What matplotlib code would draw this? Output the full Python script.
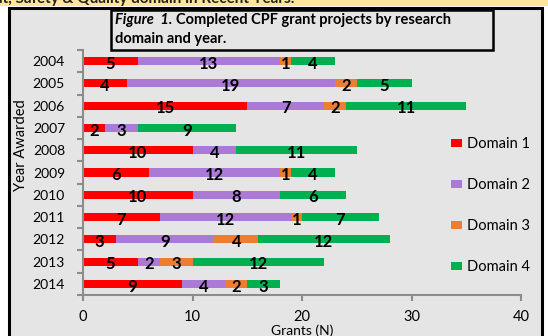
import numpy as np
import matplotlib.pyplot as plt
from matplotlib.patches import Rectangle, Patch

plt.rcParams['font.family'] = ['Lato', 'DejaVu Sans']

years = ['2004', '2005', '2006', '2007', '2008', '2009', '2010', '2011', '2012', '2013', '2014']
domain1 = [5, 4, 15, 2, 10, 6, 10, 7, 3, 5, 9]
domain2 = [13, 19, 7, 3, 4, 12, 8, 12, 9, 2, 4]
domain3 = [1, 2, 2, 0, 0, 1, 0, 1, 4, 3, 2]
domain4 = [4, 5, 11, 9, 11, 4, 6, 7, 12, 12, 3]
names = ['Domain 1', 'Domain 2', 'Domain 3', 'Domain 4']
colors = ['#FF0000', '#AA7AD6', '#ED7D31', '#00B050']

W, H = 548, 336
fig = plt.figure(figsize=(W / 100, H / 100), dpi=100)
fig.patch.set_facecolor('white')

def fx(x):
    return x / W

def fy(y):
    return 1 - y / H

# page strip + chart frame
fig.patches.append(Rectangle((0, fy(6)), 1, 6 / H, transform=fig.transFigure,
                             facecolor='#FDE59A', edgecolor='none', zorder=-20))
fig.text(fx(-6), fy(3.5), 'nt, Safety & Quality domain in Recent Years.',
         fontsize=11, fontweight='bold', va='baseline', ha='left', color='#222222')
fig.patches.append(Rectangle((fx(8.5), fy(345)), fx(542) - fx(8.5), (345 - 8.5) / H,
                             transform=fig.transFigure, facecolor='#E5E5E5',
                             edgecolor='black', linewidth=2.2, zorder=-10))

# title box
fig.patches.append(Rectangle((fx(111), fy(50)), fx(493) - fx(111), 40 / H,
                             transform=fig.transFigure, facecolor='#E5E5E5',
                             edgecolor='black', linewidth=1.8, zorder=-5))
fig.text(fx(115), fy(20), 'Figure  1.', fontsize=10.5, fontweight='bold',
         fontstyle='italic', va='center', ha='left')
fig.text(fx(176), fy(20), 'Completed CPF grant projects by research',
         fontsize=10.5, fontweight='bold', va='center', ha='left')
fig.text(fx(115), fy(39), 'domain and year.', fontsize=10.5, fontweight='bold',
         va='center', ha='left')

ax = fig.add_axes([fx(83), fy(295), fx(521) - fx(83), (295 - 50) / H])
ax.set_facecolor('none')

y = np.arange(len(years))
data = [domain1, domain2, domain3, domain4]
left = np.zeros(len(years))
for vals, c, n in zip(data, colors, names):
    vals = np.array(vals)
    ax.barh(y, vals, left=left, height=0.36, color=c, label=n)
    for yi, (l, v) in enumerate(zip(left, vals)):
        if v > 0:
            ax.text(l + v / 2, yi + 0.12, str(v), ha='center', va='center',
                    fontsize=12, fontweight='bold', color='black')
    left += vals

ax.set_xlim(0, 40)
ax.set_ylim(len(years) - 0.5, -0.5)
ax.set_xticks([0, 10, 20, 30, 40])
ax.set_yticks(y)
ax.set_yticklabels(years)
ax.set_yticks(np.arange(-0.5, len(years), 1), minor=True)
ax.tick_params(axis='y', which='major', length=0, labelsize=10, pad=13)
ax.tick_params(axis='y', which='minor', length=4, width=1.5, color='#8C8C8C')
ax.tick_params(axis='x', which='major', length=4, width=1.5, color='#8C8C8C',
               labelsize=10.5, pad=7)

for s in ['top', 'right']:
    ax.spines[s].set_visible(False)
for s in ['left', 'bottom']:
    ax.spines[s].set_color('#8C8C8C')
    ax.spines[s].set_linewidth(1.5)

ax.set_xlabel('Grants (N)', fontsize=10, labelpad=0)
fig.text(fx(21), fy(145), 'Year Awarded', rotation=90, fontsize=10.5,
         ha='center', va='center')

handles = [Patch(facecolor=c, label=n) for c, n in zip(colors, names)]
fig.legend(handles=handles, loc='upper left', bbox_to_anchor=(fx(438), fy(124)),
           frameon=False, handlelength=0.75, handleheight=0.55, handletextpad=0.35,
           labelspacing=1.85, fontsize=10.5)

plt.savefig('out.png', dpi=100)
